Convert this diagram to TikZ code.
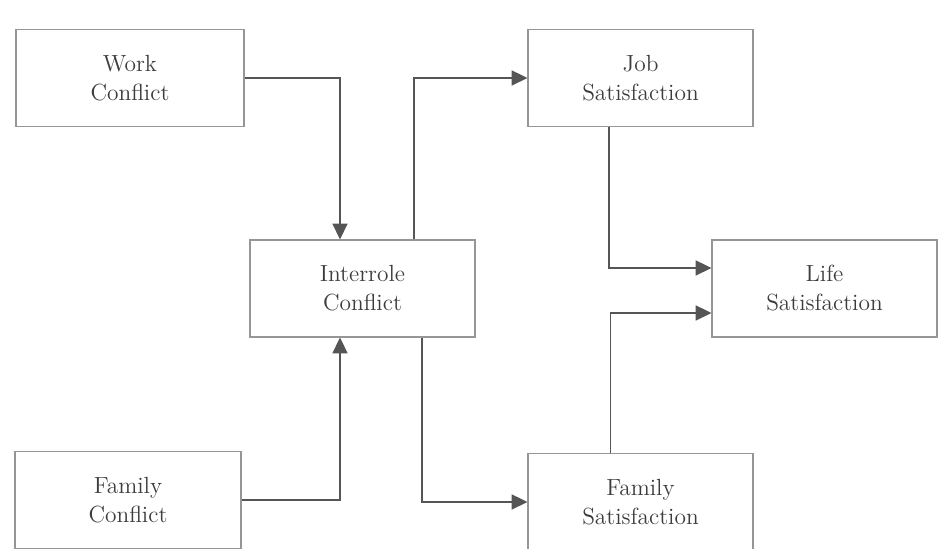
\documentclass[tikz,border=0pt]{standalone}
\definecolor{boxgray}{RGB}{150, 150, 150}
\definecolor{linegray}{RGB}{85, 85, 85}
\definecolor{textgray}{RGB}{60, 60, 60}
\usepackage{tikz}
\usetikzlibrary{arrows.meta, positioning}

\begin{document}
\begin{tikzpicture}[
    varbox/.style={draw=boxgray, line width=0.6pt, minimum width=4.5cm, minimum height=1.94cm,
      align=center, text=textgray, font=\fontsize{13.3}{16.5}\selectfont},
    link/.style={-{Triangle[length=9pt, width=8.5pt]}, draw=linegray, line width=1.1pt}
  ]
  \useasboundingbox (0, 0) rectangle (18.76, 10.98);

  % Conflict measures
  \node[varbox, minimum width=4.56cm] (work) at (2.6, 9.42) {Work\\Conflict};
  \node[varbox] (interrole) at (7.25, 5.21) {Interrole\\Conflict};
  \node[varbox, minimum width=4.52cm] (family) at (2.56, 0.98) {Family\\Conflict};

  % Satisfaction measures
  \node[varbox] (job) at (12.81, 9.42) {Job\\Satisfaction};
  \node[varbox] (life) at (16.49, 5.21) {Life\\Satisfaction};
  \node[varbox] (famsat) at (12.81, 0.94) {Family\\Satisfaction};

  % Paths into interrole conflict
  \draw[link] (work.east) -| ([xshift=-0.45cm]interrole.north);
  \draw[link] (family.east) -| ([xshift=-0.45cm]interrole.south);

  % Paths out of interrole conflict
  \draw[link] ([xshift=1.03cm]interrole.north) |- (job.west);
  \draw[link] ([xshift=1.19cm]interrole.south) |- (famsat.west);

  % Paths into life satisfaction
  \draw[link] ([xshift=-0.63cm]job.south) |- ([yshift=0.41cm]life.west);
  \draw[link] ([xshift=-0.6cm]famsat.north) |- ([yshift=-0.49cm]life.west);
\end{tikzpicture}
\end{document}
